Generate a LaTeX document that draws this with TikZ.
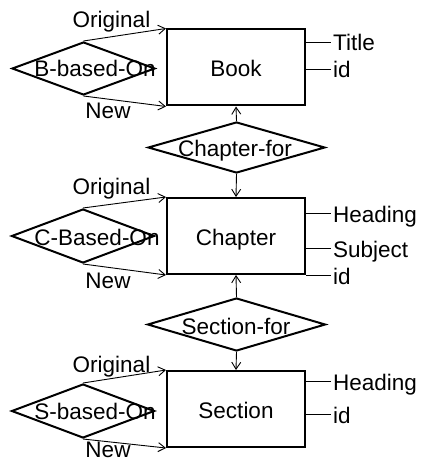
\documentclass[tikz,border=0pt]{standalone}
\usepackage{fontspec}
\setmainfont{Liberation Sans}
\usetikzlibrary{arrows.meta,positioning,calc,shapes.geometric}

\tikzset{
  entity/.style={draw,line width=2pt,minimum width=138pt,minimum height=76pt,inner sep=0pt,text height=18pt,text depth=0pt},
  relship/.style={draw,diamond,line width=2pt,inner sep=0pt},
  relname/.style={anchor=base,inner sep=0pt},
  attrib/.style={anchor=west,inner xsep=2pt,inner ysep=0pt,text height=18pt,text depth=0pt},
  link/.style={->,line width=0.9pt},
}

\begin{document}
\begin{tikzpicture}[x=1pt,y=-1pt,font=\fontsize{22.5}{26}\selectfont,>={Straight Barb[length=7pt,width=9pt]}]
\useasboundingbox (0,0) rectangle (422,462);
% entities
\node[entity] (book) at (236,67.5) {Book};
\node[entity] (chapter) at (236,236) {Chapter};
\node[entity] (section) at (236,409) {Section};
% relationships between entities
\node[relship,minimum width=177pt,minimum height=51pt] (chapfor) at (236.5,147.5) {};
\node[relname] (chapfortxt) at (235,157) {Chapter-for};
\node[relship,minimum width=178pt,minimum height=53pt] (secfor) at (236.5,324.5) {};
\node[relname] (secfortxt) at (236,334) {Section-for};
\draw[link] (chapfor.north) -- (book.south);
\draw[link] (chapfor.south) -- (chapter.north);
\draw[link] (secfor.north) -- (chapter.south);
\draw[link] (secfor.south) -- (section.north);
% recursive relationships
\node[relship,minimum width=143pt,minimum height=53pt] (bbased) at (83.5,68.5) {};
\node[relname] (bbasedtxt) at (95,77) {B-based-On};
\node[relship,minimum width=143pt,minimum height=54pt] (cbased) at (83,236) {};
\node[relname] (cbasedtxt) at (97,245) {C-Based-On};
\node[relship,minimum width=143pt,minimum height=54pt] (sbased) at (83,411) {};
\node[relname] (sbasedtxt) at (95,419) {S-based-On};
\draw[link] (bbased.north) -- (book.north west);
\draw[link] (bbased.south) -- (book.south west);
\draw[link] (cbased.north) -- (chapter.north west);
\draw[link] (cbased.south) -- (chapter.south west);
\draw[link] (sbased.north) -- (section.north west);
\draw[link] (sbased.south) -- (section.south west);
\node[relname] (borig) at (111.5,28) {Original};
\node[relname] (bnew) at (108,119) {New};
\node[relname] (corig) at (111.5,194) {Original};
\node[relname] (cnew) at (108,288) {New};
\node[relname] (sorig) at (111.5,372) {Original};
\node[relname] (snew) at (108,457) {New};
% attributes
\node[attrib] (btitle) at (331,42) {Title};
\node[attrib] (bid) at (331,69) {id};
\node[attrib] (chead) at (331,213) {Heading};
\node[attrib] (csubj) at (331,248) {Subject};
\node[attrib] (cid) at (331,275) {id};
\node[attrib] (shead) at (331,381) {Heading};
\node[attrib] (sid) at (331,414) {id};
\foreach \ent/\att in {book/btitle,book/bid,chapter/chead,chapter/csubj,chapter/cid,section/shead,section/sid}
  \draw[line width=0.9pt] (\ent.east |- \att.west) -- (\att.west);
\end{tikzpicture}
\end{document}
